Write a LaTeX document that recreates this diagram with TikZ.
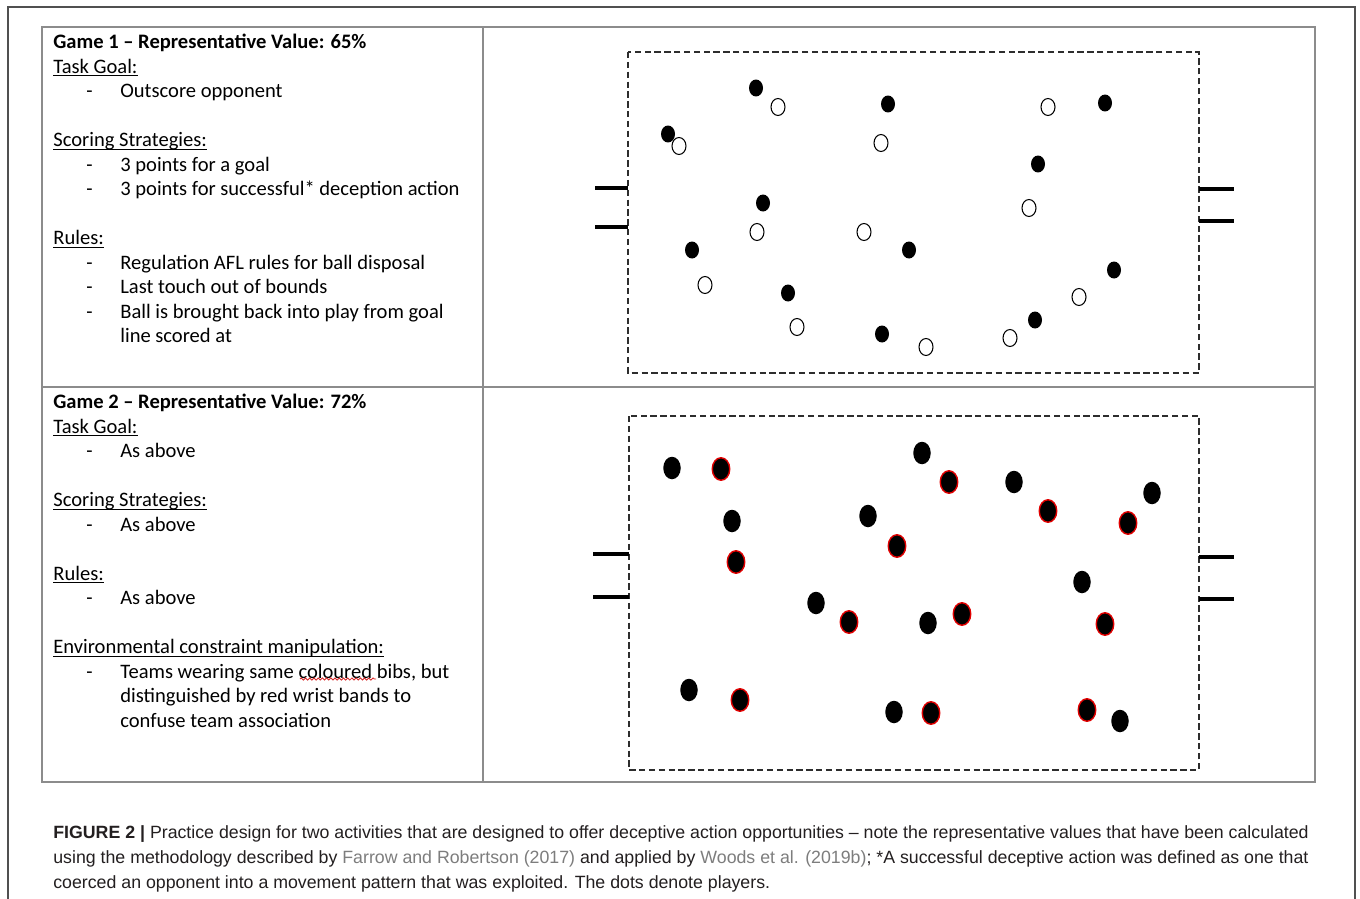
\documentclass[tikz,border=0pt]{standalone}
\usepackage{fontspec}
\setmainfont{Carlito}
\newfontfamily\capfont{Liberation Sans}
\usepackage{tikz}
\usetikzlibrary{shapes.geometric,decorations.pathmorphing}
\definecolor{framegray}{RGB}{80,80,80}
\definecolor{tablegray}{RGB}{140,140,140}
\definecolor{fieldgray}{RGB}{45,45,45}
\definecolor{linkgray}{RGB}{125,125,125}
\definecolor{captext}{RGB}{35,31,32}
\definecolor{bandred}{RGB}{225,0,0}
\definecolor{spellred}{RGB}{215,40,40}
% list items and underlined headings as in the word table
\newcommand{\itm}{\hspace*{0.66cm}\makebox[0.68cm][l]{-}}
\newcommand{\cnt}{\hspace*{1.34cm}}
\newcommand{\uln}[1]{\setbox0\hbox{#1}\rlap{\rule[-1.7pt]{\wd0}{0.6pt}}\box0}

\begin{document}
\begin{tikzpicture}[x=0.02cm,y=-0.02cm,
  cell/.style={anchor=north west,inner sep=0pt,align=left,font=\fontsize{11.7}{13.94}\selectfont},
  caption/.style={anchor=north west,inner sep=0pt,align=left,text=captext,font=\capfont\fontsize{10.1}{14.2}\selectfont},
  field/.style={draw=fieldgray,line width=0.8pt,dash pattern=on 3.6pt off 2pt},
  goalpost/.style={line width=2.2pt},
  team/.style={ellipse,inner sep=0pt,minimum width=0.28cm,minimum height=0.34cm,fill=black},
  rival/.style={team,fill=white,draw=black,line width=0.6pt},
  teamb/.style={ellipse,inner sep=0pt,minimum width=0.35cm,minimum height=0.45cm,fill=black},
  rivalb/.style={teamb,draw=bandred,line width=0.8pt}
]
\path[use as bounding box,fill=white] (0,0) rectangle (1360,899);
% outer frame and table
\draw[framegray,line width=0.8pt] (8,899) -- (8,7) -- (1355,7) -- (1355,899);
\draw[tablegray,line width=1.1pt] (42,27) rectangle (1315,782);
\draw[tablegray,line width=1.1pt] (483,27) -- (483,782);
\draw[tablegray,line width=1.1pt] (42,387) -- (1315,387);

% game 1 text
\node[cell] (game1) at (53,34) {\textbf{Game 1 – Representative Value: 65\%}\\
\uln{Task Goal:}\\
\itm Outscore opponent\\[\baselineskip]
\uln{Scoring Strategies:}\\
\itm 3 points for a goal\\
\itm 3 points for successful* deception action\\[\baselineskip]
\uln{Rules:}\\
\itm Regulation AFL rules for ball disposal\\
\itm Last touch out of bounds\\
\itm Ball is brought back into play from goal\\
\cnt line scored at};

% game 2 text
\node[cell] (game2) at (53,394) {\textbf{Game 2 – Representative Value: 72\%}\\
\uln{Task Goal:}\\
\itm As above\\[\baselineskip]
\uln{Scoring Strategies:}\\
\itm As above\\[\baselineskip]
\uln{Rules:}\\
\itm As above\\[\baselineskip]
\uln{Environmental constraint manipulation:}\\
\itm Teams wearing same coloured bibs, but\\
\cnt distinguished by red wrist bands to\\
\cnt confuse team association};
\draw[spellred,line width=0.5pt,decorate,decoration={snake,amplitude=0.6pt,segment length=2.4pt}] (300,679) -- (376,679);

% game 1 pitch
\draw[field] (628,52) rectangle (1199,373);
\draw[goalpost] (595,188) -- (628,188);
\draw[goalpost] (595,227) -- (628,227);
\draw[goalpost] (1199,189) -- (1234,189);
\draw[goalpost] (1199,221) -- (1234,221);
\foreach \x/\y [count=\i] in {756/88,888/104,1105/103,668/134,1038/164,763/203,692/250,909/250,1114/270,788/293,1035/320,882/334}
  \node[team] (home\i) at (\x,\y) {};
\foreach \x/\y [count=\i] in {778/107,1048/107,679/146,881/143,1029/208,757/232,864/232,705/285,1079/297,797/327,926/347,1010/338}
  \node[rival] (away\i) at (\x,\y) {};

% game 2 pitch
\draw[field] (629,416) rectangle (1199,770);
\draw[goalpost] (593,554) -- (629,554);
\draw[goalpost] (593,597) -- (629,597);
\draw[goalpost] (1199,557) -- (1234,557);
\draw[goalpost] (1199,599) -- (1234,599);
\foreach \x/\y [count=\i] in {672/468,922/453,1014/482,1152/493,732/521,868/516,1082/582,816/603,928/623,689/690,894/712,1120/721}
  \node[teamb] (bib\i) at (\x,\y) {};
\foreach \x/\y [count=\i] in {721/469,949/482,1048/511,1128/523,897/546,736/562,849/622,962/614,1105/624,740/700,931/713,1087/710}
  \node[rivalb] (band\i) at (\x,\y) {};

% caption
\node[caption] (cap) at (53,825) {\textbf{FIGURE 2 |} Practice design for two activities that are designed to offer deceptive action opportunities – note the representative values that have been calculated\\
using the methodology described by \textcolor{linkgray}{Farrow and Robertson (2017)} and applied by \textcolor{linkgray}{Woods et al. (2019b)}; *A successful deceptive action was defined as one that\\
coerced an opponent into a movement pattern that was exploited. The dots denote players.};
\end{tikzpicture}
\end{document}
